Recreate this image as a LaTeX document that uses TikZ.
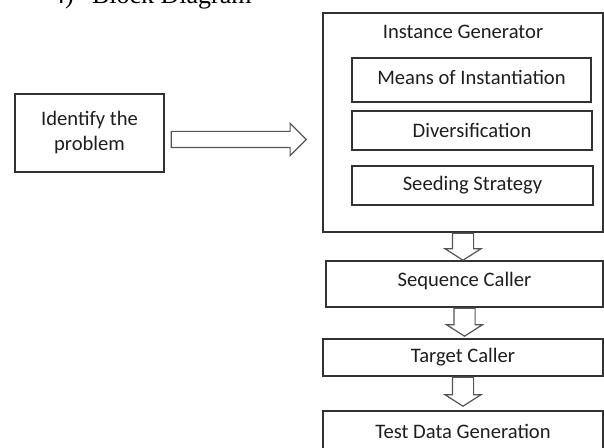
\documentclass[tikz,border=0pt]{standalone}
\usepackage{fontspec}
\setmainfont{Carlito}
\newfontfamily\headfont{Liberation Serif}
\usetikzlibrary{shapes.arrows}
\definecolor{boxline}{RGB}{50,50,50}
\definecolor{arrowline}{RGB}{85,85,85}
\definecolor{boxtext}{RGB}{30,30,30}
\tikzset{
  blockbox/.style={draw=boxline,line width=0.6pt,inner sep=0pt,align=center,text=boxtext,font=\fontsize{10.3}{12.5}\selectfont},
  downarrow/.style={draw=arrowline,line width=0.6pt,single arrow,shape border rotate=270,inner xsep=5pt,inner ysep=0pt,single arrow head extend=3.75pt,single arrow tip angle=115,anchor=tail},
  rightarrow/.style={draw=arrowline,line width=0.6pt,single arrow,inner xsep=0pt,inner ysep=3.75pt,minimum height=67.5pt,single arrow head extend=4pt,single arrow tip angle=90,anchor=tail}
}
\begin{document}
\begin{tikzpicture}[x=0.5pt,y=-0.5pt]
  \useasboundingbox (0,0) rectangle (604,448);
  \node[anchor=base west,font=\headfont\fontsize{13}{15}\selectfont] (num) at (45,4) {4)};
  \node[anchor=base west,font=\headfont\fontsize{13}{15}\selectfont] (ttl) at (85,4) {Block Diagram};
  \node[blockbox,minimum width=74.5pt,minimum height=39pt] (prob) at (89.5,133) {Identify the\\problem};
  \node[blockbox,minimum width=140pt,minimum height=109.5pt] (ig) at (463,122.5) {};
  \node[blockbox,draw=none] (iglabel) at (463,32) {Instance Generator};
  \node[blockbox,minimum width=119.5pt,minimum height=22pt,text depth=0.5ex] (means) at (471.5,80) {Means of Instantiation};
  \node[blockbox,minimum width=120pt,minimum height=19.5pt] (div) at (472,130.5) {Diversification};
  \node[blockbox,minimum width=120.5pt,minimum height=19.5pt] (seed) at (472.5,185.5) {Seeding Strategy};
  \node[blockbox,minimum width=138.5pt,minimum height=23pt,text depth=0.9ex] (seq) at (464.5,284) {Sequence Caller};
  \node[blockbox,minimum width=140pt,minimum height=18.5pt] (target) at (463,357.5) {Target Caller};
  \node[blockbox,minimum width=140pt,minimum height=20pt] (test) at (463,431) {Test Data Generation};
  \node[rightarrow] (a0) at ([xshift=3pt,yshift=-3.25pt]prob.east) {};
  \node[downarrow,minimum height=13.5pt] (a1) at (ig.south) {};
  \node[downarrow,minimum height=14pt] (a2) at (seq.south) {};
  \node[downarrow,minimum height=14.5pt] (a3) at (target.south) {};
\end{tikzpicture}
\end{document}
